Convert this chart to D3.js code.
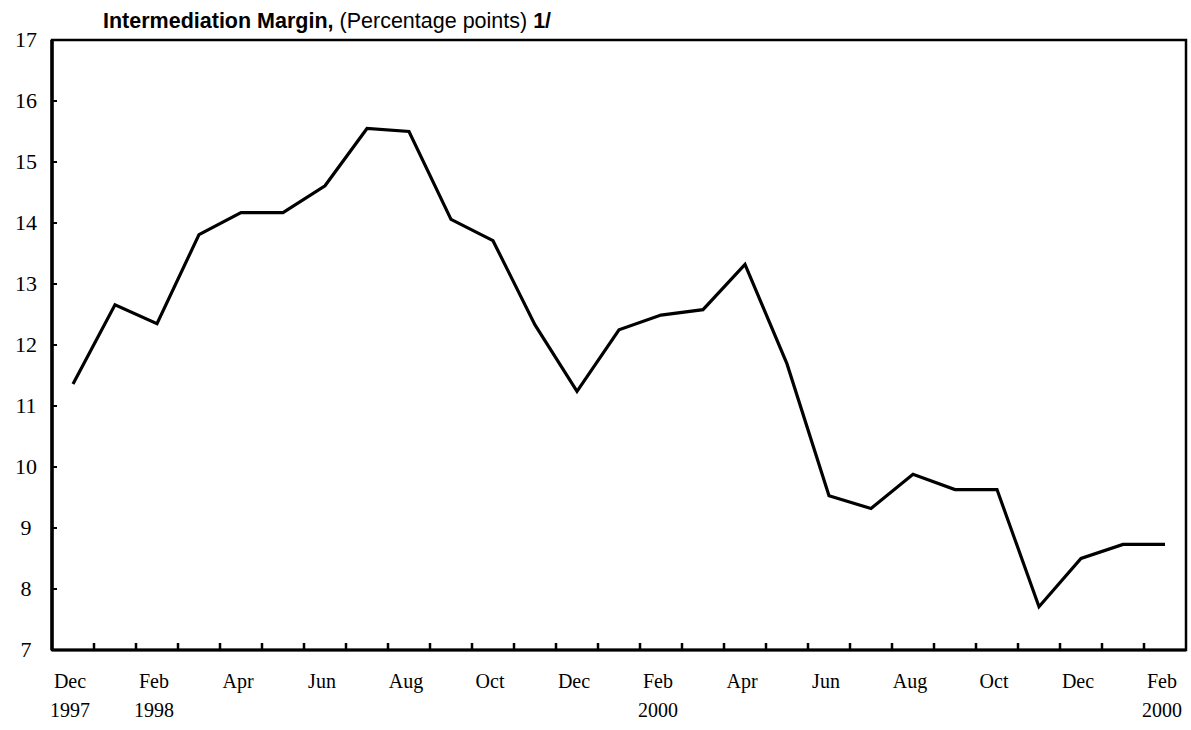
<!DOCTYPE html>
<html>
<head>
<meta charset="utf-8">
<script src="https://cdn.jsdelivr.net/npm/d3@7"></script>
<style>
  body { margin: 0; background: white; }
  svg { display: block; }
</style>
</head>
<body>
<div id="chart"></div>
<script>
// Monthly observations, Dec 1997 - Feb 2000
const months = ["Dec97","Jan98","Feb98","Mar98","Apr98","May98","Jun98","Jul98","Aug98","Sep98","Oct98","Nov98","Dec98",
                "Jan99","Feb99","Mar99","Apr99","May99","Jun99","Jul99","Aug99","Sep99","Oct99","Nov99","Dec99","Jan00","Feb00"];
const margin_pts = [11.36, 12.66, 12.35, 13.81, 14.17, 14.17, 14.61, 15.55, 15.5, 14.06, 13.71, 12.33, 11.24,
                    12.25, 12.49, 12.58, 13.32, 11.69, 9.53, 9.32, 9.88, 9.63, 9.63, 7.71, 8.5, 8.73, 8.73];
// labels shown every other month (line1 / line2)
const xLabels = {
  "Dec97": ["Dec", "1997"], "Feb98": ["Feb", "1998"], "Apr98": ["Apr"], "Jun98": ["Jun"], "Aug98": ["Aug"],
  "Oct98": ["Oct"], "Dec98": ["Dec"], "Feb99": ["Feb", "2000"], "Apr99": ["Apr"], "Jun99": ["Jun"],
  "Aug99": ["Aug"], "Oct99": ["Oct"], "Dec99": ["Dec"], "Feb00": ["Feb", "2000"]
};
const yTicks = d3.range(7, 18);

const W = 1191, H = 730;
const margin = {top: 40, right: 5, bottom: 80, left: 52};
const width = W - margin.left - margin.right;
const height = H - margin.top - margin.bottom;

const svg = d3.select("#chart").append("svg")
    .attr("width", W)
    .attr("height", H);

const g = svg.append("g")
    .attr("transform", `translate(${margin.left},${margin.top})`);

const x = d3.scaleBand()
    .domain(months)
    .range([0, width]);

const y = d3.scaleLinear()
    .domain([7, 17])
    .range([height, 0]);

// title
const title = svg.append("text")
    .attr("x", 103)
    .attr("y", 28)
    .style("font-family", "'Liberation Sans', Arial, sans-serif")
    .style("font-size", "21.5px")
    .attr("fill", "#000");
title.append("tspan").style("font-weight", "bold").text("Intermediation Margin, ");
title.append("tspan").text("(Percentage points) ");
title.append("tspan").style("font-weight", "bold").text("1/");

// frame
g.append("rect")
    .attr("x", 0).attr("y", 0)
    .attr("width", width).attr("height", height)
    .attr("fill", "none")
    .attr("stroke", "#000")
    .attr("stroke-width", 2.5);
g.append("line")
    .attr("x1", 0).attr("x2", 0).attr("y1", 0).attr("y2", height)
    .attr("stroke", "#000").attr("stroke-width", 3.5);
g.append("line")
    .attr("x1", 0).attr("x2", width).attr("y1", height).attr("y2", height)
    .attr("stroke", "#000").attr("stroke-width", 3);

// y axis ticks (inside) and labels
g.selectAll(".ytick")
    .data(yTicks)
    .enter().append("line")
    .attr("class", "ytick")
    .attr("x1", 0).attr("x2", 5)
    .attr("y1", d => y(d)).attr("y2", d => y(d))
    .attr("stroke", "#000").attr("stroke-width", 2);

g.selectAll(".ylab")
    .data(yTicks)
    .enter().append("text")
    .attr("class", "ylab")
    .attr("x", -26)
    .attr("y", d => y(d))
    .attr("dy", "0.32em")
    .attr("text-anchor", "middle")
    .style("font-family", "'Liberation Serif', 'Times New Roman', serif")
    .style("font-size", "22px")
    .text(d => d);

// x ticks between months, pointing up
g.selectAll(".xtick")
    .data(months.slice(1))
    .enter().append("line")
    .attr("class", "xtick")
    .attr("x1", d => x(d)).attr("x2", d => x(d))
    .attr("y1", height).attr("y2", height - 7)
    .attr("stroke", "#000").attr("stroke-width", 2.5);

// x labels
const labelled = months.filter(m => xLabels[m]);
const xl = g.selectAll(".xlab")
    .data(labelled)
    .enter().append("text")
    .attr("class", "xlab")
    .attr("text-anchor", "middle")
    .attr("transform", d => `translate(${x(d) + x.bandwidth() / 2 - 3},${height + 38})`)
    .style("font-family", "'Liberation Serif', 'Times New Roman', serif")
    .style("font-size", "20px");
xl.each(function(d) {
  const t = d3.select(this);
  xLabels[d].forEach((s, i) => {
    t.append("tspan").attr("x", 0).attr("dy", i === 0 ? 0 : 29).text(s);
  });
});

// series line
const line = d3.line()
    .x((d, i) => x(months[i]) + x.bandwidth() / 2)
    .y(d => y(d));

g.append("path")
    .datum(margin_pts)
    .attr("d", line)
    .attr("fill", "none")
    .attr("stroke", "#000")
    .attr("stroke-width", 3.2)
    .attr("stroke-linejoin", "miter");
</script>
</body>
</html>
